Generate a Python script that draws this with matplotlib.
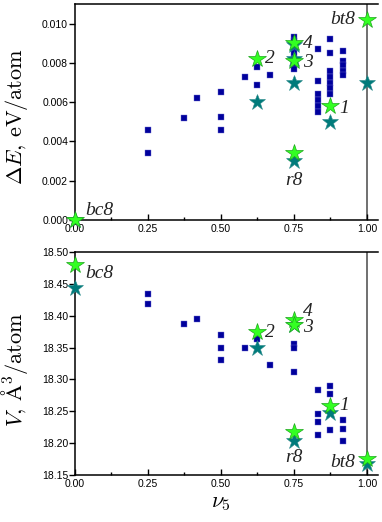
import numpy as np
import matplotlib
matplotlib.use("Agg")
import matplotlib.pyplot as plt

plt.rcParams["mathtext.fontset"] = "cm"
plt.rcParams["font.family"] = "Liberation Sans"

# ---- top panel: energy ----
sq_v_top = [0.25, 0.25, 0.375, 0.417, 0.5, 0.5, 0.5, 0.583, 0.625, 0.625, 0.667,
            0.75, 0.75, 0.75, 0.75, 0.75, 0.75, 0.75,
            0.833, 0.833, 0.833, 0.833, 0.833, 0.833,
            0.875, 0.875, 0.875, 0.875, 0.875, 0.875, 0.875,
            0.917, 0.917, 0.917, 0.917, 0.917]
sq_e_top = [0.0046, 0.0034, 0.0052, 0.0062, 0.0065, 0.00525, 0.0046, 0.0073, 0.0078, 0.0069, 0.0074,
            0.0093, 0.0091, 0.0088, 0.0085, 0.0082, 0.0079, 0.0077,
            0.0087, 0.0071, 0.0064, 0.0061, 0.0058, 0.0055,
            0.0092, 0.0085, 0.0076, 0.0073, 0.0070, 0.0067, 0.0064,
            0.0086, 0.0081, 0.0079, 0.0076, 0.0074]

# teal stars then green stars (same structures)
teal_v_top = [0.0, 0.625, 0.75, 0.75, 0.75, 0.875, 0.75, 1.0]
teal_e_top = [0.0, 0.0060, 0.0089, 0.0082, 0.0070, 0.0050, 0.0030, 0.0070]
green_v_top = [0.0, 0.625, 0.75, 0.75, 0.875, 0.75, 1.0]
green_e_top = [0.0, 0.0082, 0.0090, 0.0081, 0.0058, 0.0034, 0.0102]

# ---- bottom panel: volume ----
sq_v_bot = [0.25, 0.25, 0.375, 0.417, 0.5, 0.5, 0.5, 0.583, 0.625, 0.667,
            0.75, 0.75, 0.75,
            0.833, 0.833, 0.833, 0.833,
            0.875, 0.875, 0.875,
            0.917, 0.917, 0.917]
sq_V_bot = [18.434, 18.418, 18.387, 18.395, 18.370, 18.349, 18.330, 18.349, 18.363, 18.322,
            18.355, 18.350, 18.311,
            18.283, 18.245, 18.233, 18.213,
            18.290, 18.277, 18.221,
            18.236, 18.222, 18.203]

teal_v_bot = [0.0, 0.625, 0.75, 0.875, 0.75, 1.0]
teal_V_bot = [18.443, 18.350, 18.386, 18.247, 18.204, 18.168]
green_v_bot = [0.0, 0.625, 0.75, 0.75, 0.875, 0.75, 1.0]
green_V_bot = [18.480, 18.374, 18.393, 18.385, 18.259, 18.218, 18.175]

sq_color = "#00009C"
teal = "#007B7B"
green = "#33FF22"

fig = plt.figure(figsize=(3.82, 5.22), dpi=100)
ax1 = fig.add_axes([75/382, 1-220/522, 303/382, 216/522])
ax2 = fig.add_axes([75/382, 1-475/522, 303/382, 223/522])

xmax = 1.038

for ax in (ax1, ax2):
    ax.axvline(1.0, color="#707070", lw=1.4, zorder=1)
    ax.set_xlim(0, xmax)
    ax.spines["right"].set_visible(False)
    for s in ("left", "bottom", "top"):
        ax.spines[s].set_linewidth(1.1)
    ax.set_xticks([0, 0.25, 0.5, 0.75, 1.0])
    ax.set_xticklabels(["0.00", "0.25", "0.50", "0.75", "1.00"])
    ax.set_xticks([0.125, 0.375, 0.625, 0.875], minor=True)
    ax.tick_params(axis="x", which="major", direction="in", length=4, width=1, labelsize=7.5, pad=3)
    ax.tick_params(axis="x", which="minor", direction="in", length=2.5, width=1)
    ax.tick_params(axis="y", which="major", direction="out", length=4, width=1, labelsize=7.5, pad=1)

ax1.plot(sq_v_top, sq_e_top, "s", color=sq_color, ms=4.2, mec="#6b6bd0", mew=0.3, zorder=3, clip_on=False)
ax1.plot(teal_v_top, teal_e_top, "*", color=teal, ms=12, mec="#2a8a8a", mew=0.4, zorder=4, clip_on=False)
ax1.plot(green_v_top, green_e_top, "*", color=green, ms=13, mec="#1ea51e", mew=0.5, zorder=5, clip_on=False)
ax1.set_ylim(0, 0.011)
ax1.set_yticks([0, 0.002, 0.004, 0.006, 0.008, 0.010])
ax1.set_yticklabels(["0.000", "0.002", "0.004", "0.006", "0.008", "0.010"])
ax1.set_ylabel(r"$\Delta E,\, \mathrm{eV}/\mathrm{atom}$", fontsize=16)
ax1.yaxis.set_label_coords(-0.148, 0.48)

ax2.plot(sq_v_bot, sq_V_bot, "s", color=sq_color, ms=4.2, mec="#6b6bd0", mew=0.3, zorder=3, clip_on=False)
ax2.plot(teal_v_bot, teal_V_bot, "*", color=teal, ms=12, mec="#2a8a8a", mew=0.4, zorder=4, clip_on=False)
ax2.plot(green_v_bot, green_V_bot, "*", color=green, ms=13, mec="#1ea51e", mew=0.5, zorder=5, clip_on=False)
ax2.set_ylim(18.15, 18.50)
ax2.set_yticks(np.arange(18.15, 18.501, 0.05))
ax2.set_yticklabels(["18.15", "18.20", "18.25", "18.30", "18.35", "18.40", "18.45", "18.50"])
ax2.set_ylabel(r"$V,\, \mathrm{\AA}^3/\mathrm{atom}$", fontsize=16)
ax2.yaxis.set_label_coords(-0.148, 0.47)
ax2.set_xlabel(r"$\nu_5$", fontsize=16, labelpad=1)
ax2.xaxis.set_label_coords(0.5/xmax, -0.075)

lab = dict(fontsize=14, family="Liberation Serif", style="italic", color="#222222")
# top annotations
ax1.text(0.034, 0.0005, "bc8", ha="left", va="center", **lab)
ax1.text(0.75, 0.0020, "r8", ha="center", va="center", **lab)
ax1.text(0.96, 0.0102, "bt8", ha="right", va="center", **lab)
ax1.text(0.652, 0.0082, "2", ha="left", va="center", **lab)
ax1.text(0.78, 0.0090, "4", ha="left", va="center", **lab)
ax1.text(0.78, 0.0080, "3", ha="left", va="center", **lab)
ax1.text(0.905, 0.0057, "1", ha="left", va="center", **lab)
# bottom annotations
ax2.text(0.034, 18.467, "bc8", ha="left", va="center", **lab)
ax2.text(0.75, 18.177, "r8", ha="center", va="center", **lab)
ax2.text(0.96, 18.170, "bt8", ha="right", va="center", **lab)
ax2.text(0.652, 18.373, "2", ha="left", va="center", **lab)
ax2.text(0.78, 18.406, "4", ha="left", va="center", **lab)
ax2.text(0.78, 18.381, "3", ha="left", va="center", **lab)
ax2.text(0.905, 18.259, "1", ha="left", va="center", **lab)

fig.savefig("out.png", dpi=100)
